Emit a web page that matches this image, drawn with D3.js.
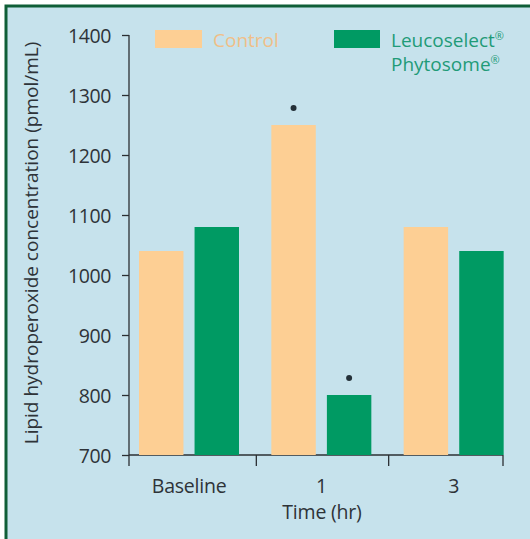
<!DOCTYPE html>
<html>
<head>
<meta charset="utf-8">
<script src="https://cdn.jsdelivr.net/npm/d3@7"></script>
<style>
  html, body { margin: 0; padding: 0; background: #fff; }
  svg { display: block; font-family: 'Open Sans', sans-serif; }
</style>
</head>
<body>
<svg id="chart" width="530" height="539"></svg>
<script>
// data
const categories = ['Baseline', '1', '3']
const seriesNames = ['Control', 'Leucoselect®']
const controlValues = [1040, 1250, 1080]
const leucoValues = [1080, 800, 1040]
const significant = [[false, false], [true, true], [false, false]]
const yTicks = [700, 800, 900, 1000, 1100, 1200, 1300, 1400]

const colors = ['#fdcf94', '#009a63']
const textGrey = '#2e3338'

const svg = d3.select('#chart')
const W = 530, H = 539

// panel background + green frame (left and top only)
svg.append('rect').attr('x', 5).attr('y', 5).attr('width', W - 5).attr('height', H - 5).attr('fill', '#c6e2ec')
svg.append('path').attr('d', `M6,${H} V6 H${W}`).attr('fill', 'none').attr('stroke', '#0f5e37').attr('stroke-width', 3)

const y = d3.scaleLinear().domain([700, 1400]).range([455, 35])
const x0 = d3.scaleBand().domain(categories).range([124, 521]).paddingInner(0).paddingOuter(0)
const x1 = d3.scaleBand().domain(seriesNames).range([15, 115]).paddingInner(0.2)

const axisX = 129, axisEnd = 503
const axisCol = '#2b2f33'

// y axis
const yAxis = svg.append('g').attr('transform', `translate(${axisX},0)`)
  .call(d3.axisLeft(y).tickValues(yTicks).tickSize(7).tickSizeOuter(0).tickFormat(d3.format('d')))
yAxis.select('.domain').attr('d', `M0,${y(1400)}V${y(700) + 11}`)
  .attr('stroke', axisCol).attr('stroke-width', 1.3)
yAxis.selectAll('line').attr('stroke', axisCol).attr('stroke-width', 1.3)
yAxis.selectAll('text').attr('x', -18).attr('dy', '0.36em')
  .attr('font-size', 19.5).attr('fill', textGrey)
  .attr('font-family', 'Open Sans').attr('letter-spacing', -0.4)

// x axis line and ticks
const xg = svg.append('g')
xg.append('line').attr('x1', axisX).attr('x2', axisEnd).attr('y1', y(700)).attr('y2', y(700))
  .attr('stroke', axisCol).attr('stroke-width', 1.3)
const xTickPos = [x0('1'), x0('3'), axisEnd]
xg.selectAll('.xt').data(xTickPos).join('line').attr('class', 'xt')
  .attr('x1', d => d).attr('x2', d => d).attr('y1', y(700)).attr('y2', y(700) + 11)
  .attr('stroke', axisCol).attr('stroke-width', 1.3)

// bars
const rows = categories.map((c, i) => ({ cat: c, vals: [controlValues[i], leucoValues[i]], sig: significant[i] }))
const groups = svg.append('g').selectAll('g').data(rows).join('g')
  .attr('transform', d => `translate(${x0(d.cat)},0)`)
groups.selectAll('rect').data(d => d.vals.map((v, j) => ({ v, j, name: seriesNames[j] })))
  .join('rect')
  .attr('x', d => x1(d.name))
  .attr('width', x1.bandwidth())
  .attr('y', d => y(d.v))
  .attr('height', d => y(700) - y(d.v))
  .attr('fill', d => colors[d.j])

// significance markers
groups.selectAll('circle').data(d => d.vals.map((v, j) => ({ v, j, name: seriesNames[j], s: d.sig[j] })).filter(d => d.s))
  .join('circle')
  .attr('cx', d => x1(d.name) + x1.bandwidth() / 2)
  .attr('cy', d => y(d.v) - 17)
  .attr('r', 3)
  .attr('fill', '#243038')

// category labels
svg.append('g').selectAll('text').data(categories).join('text')
  .attr('x', d => x0(d) + x0.bandwidth() / 2 - 1)
  .attr('y', 493)
  .attr('text-anchor', 'middle')
  .attr('font-size', 19.5).attr('fill', textGrey).attr('letter-spacing', -0.2)
  .text(d => d)

svg.append('text').attr('x', 322).attr('y', 519).attr('text-anchor', 'middle')
  .attr('font-size', 19.5).attr('fill', textGrey).attr('letter-spacing', -0.2)
  .text('Time (hr)')

svg.append('text')
  .attr('transform', `translate(38,${(33 + 453) / 2}) rotate(-90)`)
  .attr('text-anchor', 'middle')
  .attr('font-size', 19).attr('fill', textGrey)
  .text('Lipid hydroperoxide concentration (pmol/mL)')

// legend
const legend = svg.append('g')
legend.append('rect').attr('x', 155).attr('y', 30).attr('width', 47).attr('height', 18).attr('fill', colors[0])
legend.append('text').attr('x', 213).attr('y', 47).attr('font-size', 19).attr('fill', '#f0bf88').text('Control')
legend.append('rect').attr('x', 334).attr('y', 30).attr('width', 46).attr('height', 18).attr('fill', colors[1])
const lt = legend.append('text').attr('x', 391).attr('y', 47).attr('font-size', 19).attr('fill', '#1f9b78')
lt.append('tspan').text('Leucoselect')
lt.append('tspan').attr('font-size', 11).attr('dy', -7).text('®')
const lt2 = legend.append('text').attr('x', 391).attr('y', 71).attr('font-size', 19).attr('fill', '#1f9b78')
lt2.append('tspan').text('Phytosome')
lt2.append('tspan').attr('font-size', 11).attr('dy', -7).text('®')
</script>
</body>
</html>
